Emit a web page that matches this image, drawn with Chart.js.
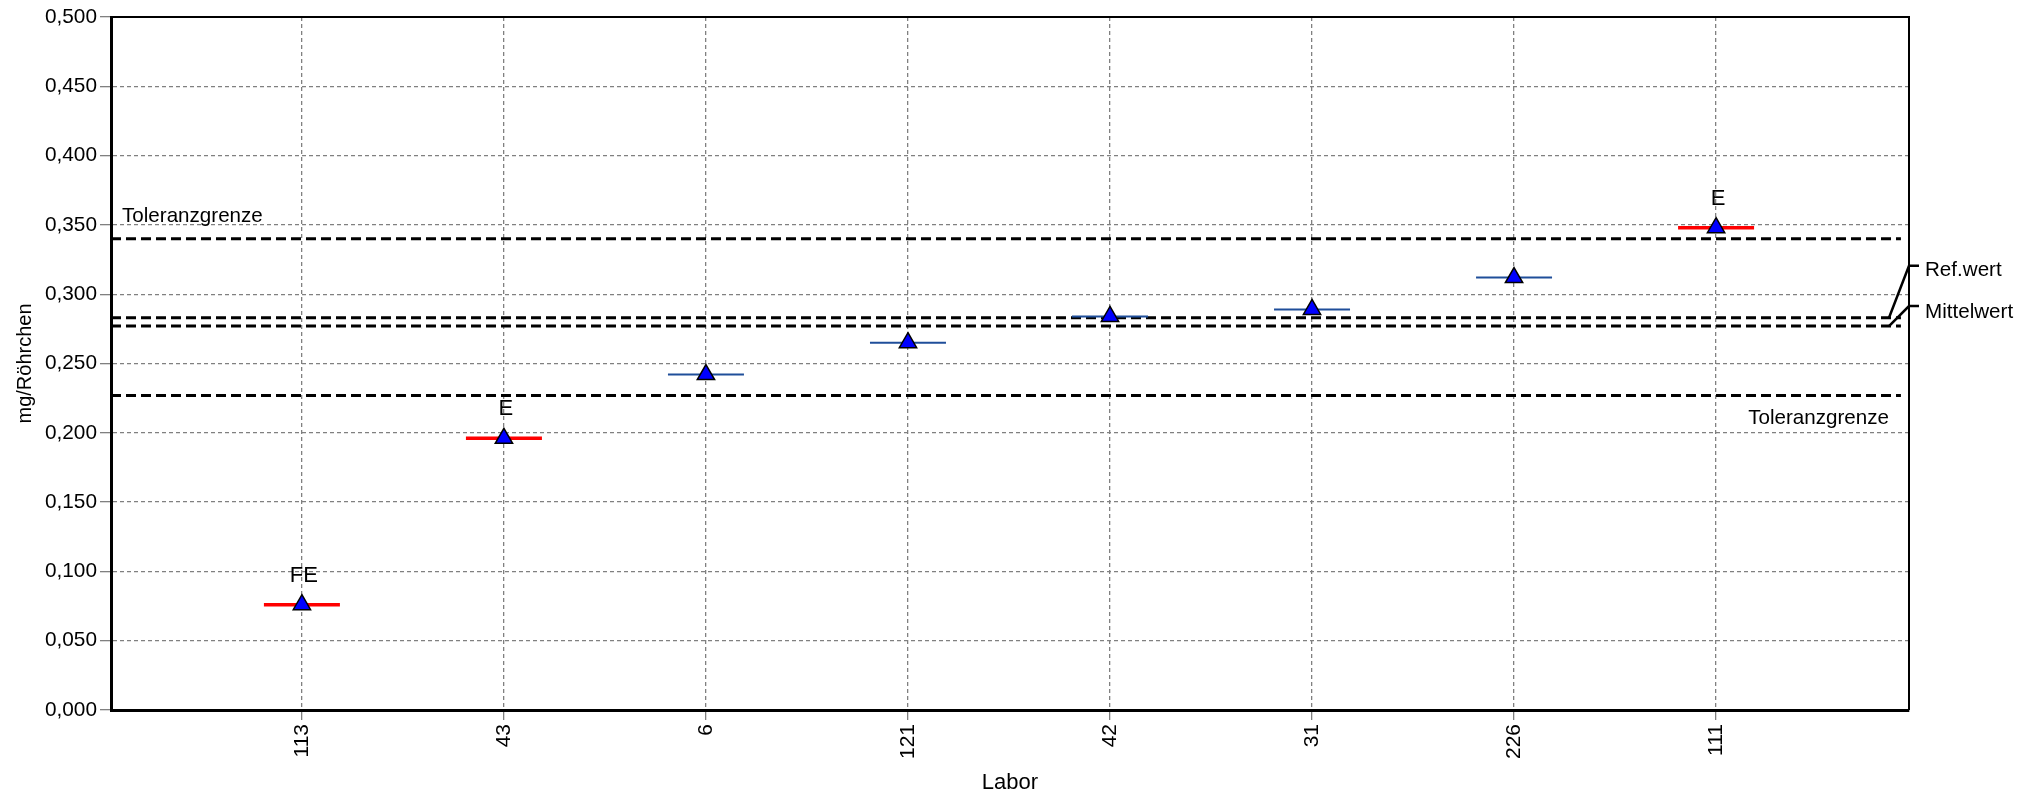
<!DOCTYPE html>
<html><head><meta charset="utf-8">
<script src="https://cdn.jsdelivr.net/npm/chart.js@4.4.0/dist/chart.umd.min.js"></script>
<style>html,body{margin:0;padding:0;background:#fff;overflow:hidden}#wrap{position:relative;width:2038px;height:796px}</style>
</head><body><div id="wrap"><canvas id="c" width="2038" height="796"></canvas></div>
<script>
const labs = ['113', '43', '6', '121', '42', '31', '226', '111'];
const values = [0.076, 0.196, 0.242, 0.265, 0.284, 0.289, 0.312, 0.348];
const flags = ['FE', 'E', '', '', '', '', '', 'E'];
const yTickValues = [0, 0.05, 0.1, 0.15, 0.2, 0.25, 0.3, 0.35, 0.4, 0.45, 0.5];
const tolUpper = 0.340;
const tolLower = 0.227;
const refValue = 0.283;
const meanValue = 0.277;

const X_MIN = 0.055, X_MAX = 8.955;
const FONT = "'Liberation Sans', Arial, sans-serif";
Chart.defaults.font.family = FONT;
Chart.defaults.color = '#000';

const pts = values.map((v, i) => ({x: i + 1, y: v}));
const barColors = flags.map(f => f ? '#FF0000' : '#1F4E9A');
const barWidths = flags.map(f => f ? 3.5 : 2);
const hLine = v => [{x: X_MIN, y: v}, {x: X_MAX - 0.04, y: v}];
const refStyle = {type: 'line', borderColor: '#000', borderWidth: 3, borderDash: [10, 5], pointRadius: 0, fill: false, order: 2};

const annot = {
  id: 'annot',
  afterDatasetsDraw(chart) {
    const {ctx, chartArea: a, scales: {x, y}} = chart;
    ctx.save();
    ctx.strokeStyle = '#000';
    ctx.lineWidth = 2;
    ctx.beginPath();
    ctx.moveTo(a.left, a.top); ctx.lineTo(a.right, a.top); ctx.lineTo(a.right, a.bottom);
    ctx.stroke();
    ctx.fillStyle = '#000';
    ctx.font = '22px ' + FONT;
    ctx.textAlign = 'center';
    ctx.textBaseline = 'alphabetic';
    flags.forEach((f, i) => {
      if (f) ctx.fillText(f, x.getPixelForValue(i + 1) + 2, y.getPixelForValue(values[i]) - 23);
    });
    ctx.font = '20.6px ' + FONT;
    ctx.textAlign = 'left';
    ctx.fillText('Toleranzgrenze', a.left + 11, y.getPixelForValue(tolUpper) - 17);
    ctx.textAlign = 'right';
    ctx.fillText('Toleranzgrenze', a.right - 20, y.getPixelForValue(tolLower) + 29);
    const ry = y.getPixelForValue(refValue), my = y.getPixelForValue(meanValue);
    ctx.lineWidth = 2.5;
    ctx.beginPath(); ctx.moveTo(a.right - 20, ry); ctx.lineTo(a.right, ry - 52); ctx.lineTo(a.right + 10, ry - 52); ctx.stroke();
    ctx.beginPath(); ctx.moveTo(a.right - 20, my); ctx.lineTo(a.right, my - 20); ctx.lineTo(a.right + 10, my - 20); ctx.stroke();
    ctx.textAlign = 'left';
    ctx.textBaseline = 'middle';
    ctx.fillText('Ref.wert', a.right + 16, ry - 47);
    ctx.fillText('Mittelwert', a.right + 16, my - 14);
    ctx.restore();
  }
};

new Chart(document.getElementById('c'), {
  type: 'scatter',
  data: {
    datasets: [
      {label: 'Messwert', data: pts, pointStyle: 'triangle', pointRadius: 10, pointBackgroundColor: '#0000FF', pointBorderColor: '#000', pointBorderWidth: 1.5, order: 0},
      {label: 'Bereich', data: pts, pointStyle: 'line', pointRadius: 38, pointBorderColor: barColors, pointBorderWidth: barWidths, order: 1},
      Object.assign({label: 'Toleranzgrenze oben', data: hLine(tolUpper)}, refStyle),
      Object.assign({label: 'Ref.wert', data: hLine(refValue)}, refStyle),
      Object.assign({label: 'Mittelwert', data: hLine(meanValue)}, refStyle),
      Object.assign({label: 'Toleranzgrenze unten', data: hLine(tolLower)}, refStyle)
    ]
  },
  options: {
    responsive: false,
    animation: false,
    events: [],
    devicePixelRatio: 1,
    layout: {autoPadding: false, padding: {top: 17, right: 129, left: 0, bottom: 0}},
    plugins: {legend: {display: false}, tooltip: {enabled: false}},
    scales: {
      x: {
        type: 'linear', min: X_MIN, max: X_MAX,
        afterBuildTicks: s => { s.ticks = labs.map((_, i) => ({value: i + 1})); },
        afterFit: s => { s.height = 86; s.paddingLeft = 0; s.paddingRight = 0; },
        ticks: {callback: (v, i) => labs[i], maxRotation: 90, minRotation: 90, autoSkip: false, font: {size: 21}, color: '#000', padding: 4},
        grid: {color: '#808080', lineWidth: 1.3, tickLength: 10, tickColor: '#808080'},
        border: {display: true, color: '#000', width: 3, dash: [4, 3]},
        title: {display: true, text: 'Labor', font: {size: 22}, color: '#000', padding: {top: 0, bottom: 0}}
      },
      y: {
        type: 'linear', min: 0, max: 0.5,
        afterBuildTicks: s => { s.ticks = yTickValues.map(v => ({value: v})); },
        afterFit: s => { s.width = 111; s.paddingTop = 0; s.paddingBottom = 0; },
        ticks: {callback: v => v.toFixed(3).replace('.', ','), font: {size: 20.8}, color: '#000', padding: 3},
        grid: {color: c => (c.tick && c.tick.value === 0) ? 'rgba(0,0,0,0)' : '#808080', lineWidth: 1.3, tickLength: 11, tickColor: '#808080'},
        border: {display: true, color: '#000', width: 3, dash: [4, 3]},
        title: {display: true, text: 'mg/Röhrchen', font: {size: 20}, color: '#000', padding: {top: 13, bottom: 0}}
      }
    }
  },
  plugins: [annot]
});
</script></body></html>
